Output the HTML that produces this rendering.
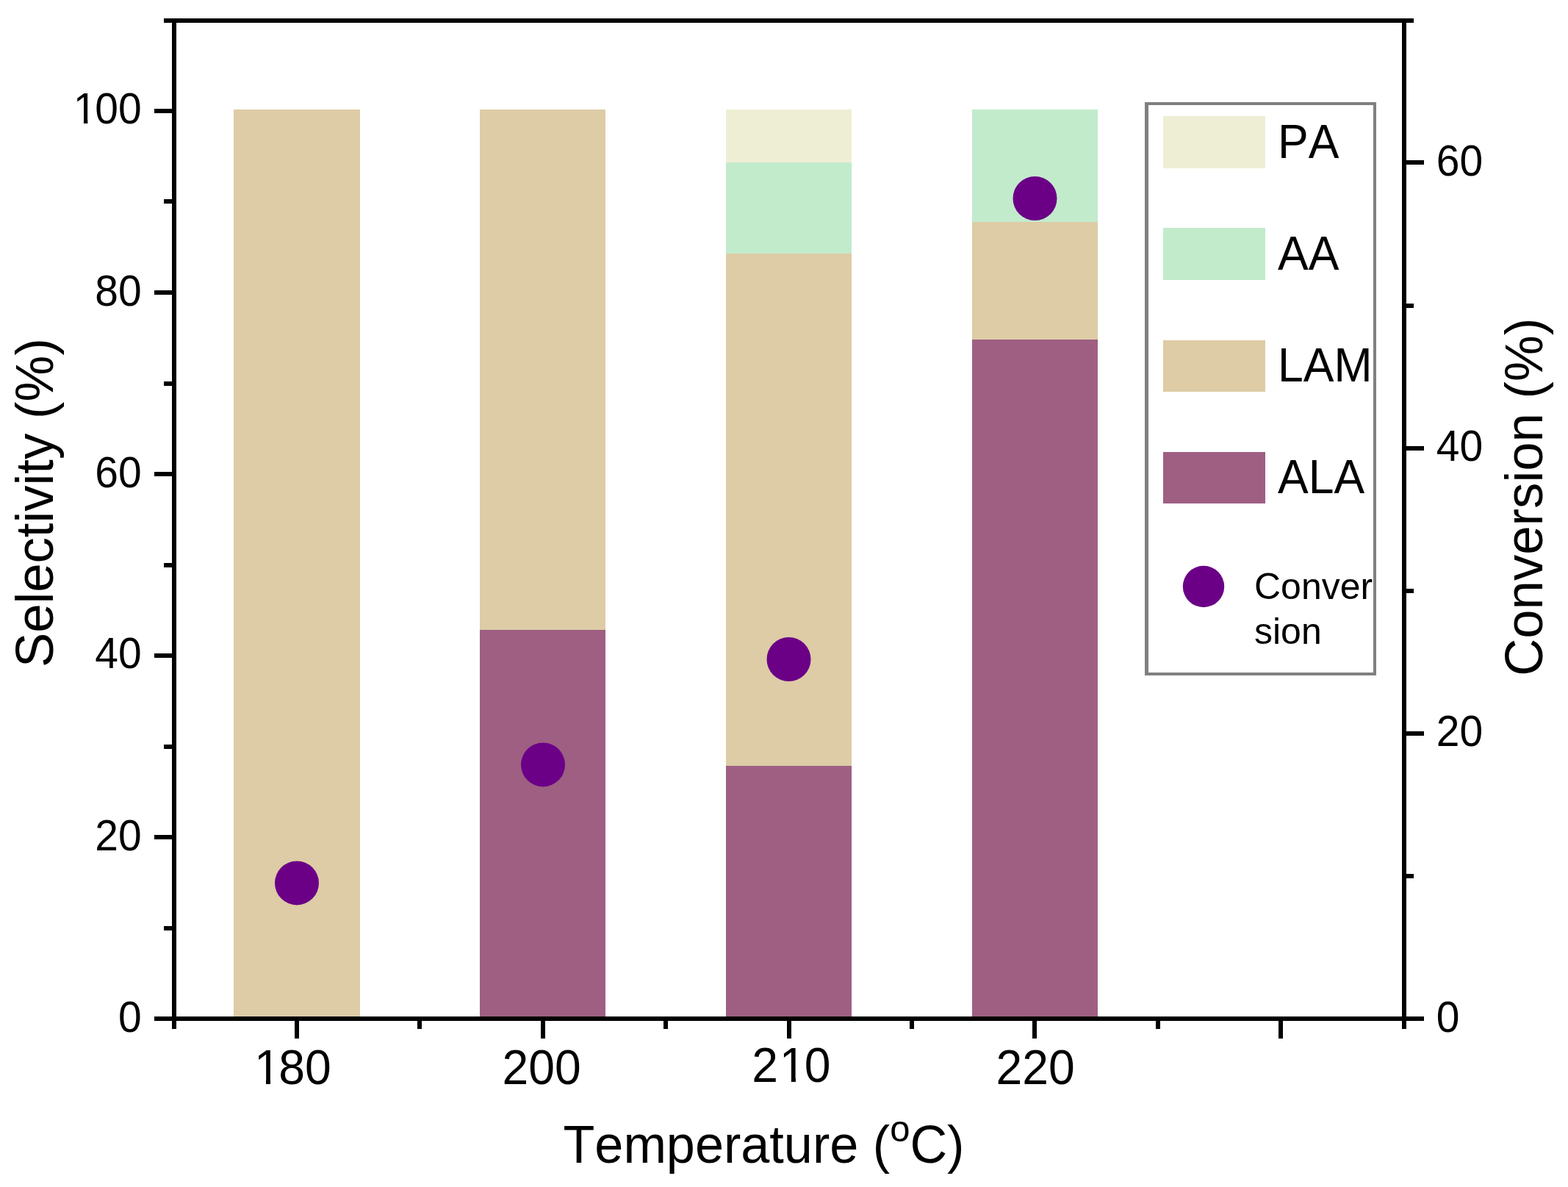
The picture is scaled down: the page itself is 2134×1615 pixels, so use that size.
<!DOCTYPE html>
<html lang="en"><head><meta charset="utf-8"><title>Selectivity and conversion vs temperature</title>
<style>
html,body{margin:0;padding:0;background:#fff;}
body{width:2134px;height:1615px;overflow:hidden;}
svg{display:block;}
text{font-family:"Liberation Sans",sans-serif;fill:#000;font-kerning:none;font-variant-ligatures:none;}
.ax{fill:#000;shape-rendering:crispEdges;}
.bar{shape-rendering:crispEdges;}
</style></head><body>
<svg width="2134" height="1615" viewBox="0 0 2134 1615" role="img" aria-label="Selectivity and conversion versus temperature">
<rect x="0" y="0" width="2134" height="1615" fill="#ffffff"/>
<g>
<rect class="bar" x="318" y="149" width="172" height="1234" fill="#DDCCA5"/>
<rect class="bar" x="653" y="857" width="171" height="526" fill="#9E5F83"/>
<rect class="bar" x="653" y="149" width="171" height="708" fill="#DDCCA5"/>
<rect class="bar" x="988" y="1042" width="171" height="341" fill="#9E5F83"/>
<rect class="bar" x="988" y="345" width="171" height="697" fill="#DDCCA5"/>
<rect class="bar" x="988" y="221" width="171" height="124" fill="#C2EBCC"/>
<rect class="bar" x="988" y="149" width="171" height="72" fill="#EEEED5"/>
<rect class="bar" x="1323" y="462" width="171" height="921" fill="#9E5F83"/>
<rect class="bar" x="1323" y="302" width="171" height="160" fill="#DDCCA5"/>
<rect class="bar" x="1323" y="149" width="171" height="153" fill="#C2EBCC"/>
</g>
<g class="ax">
<rect x="234" y="25" width="6" height="1375"/>
<rect x="1908" y="25" width="6" height="1375"/>
<rect x="223" y="25" width="1701" height="6"/>
<rect x="210" y="1383" width="1728" height="6"/>
<rect x="210" y="148" width="24" height="6"/>
<rect x="210" y="395" width="24" height="6"/>
<rect x="210" y="642" width="24" height="6"/>
<rect x="210" y="889" width="24" height="6"/>
<rect x="210" y="1136" width="24" height="6"/>
<rect x="223" y="271" width="11" height="6"/>
<rect x="223" y="519" width="11" height="6"/>
<rect x="223" y="766" width="11" height="6"/>
<rect x="223" y="1013" width="11" height="6"/>
<rect x="223" y="1260" width="11" height="6"/>
<rect x="1914" y="218" width="24" height="6"/>
<rect x="1914" y="607" width="24" height="6"/>
<rect x="1914" y="995" width="24" height="6"/>
<rect x="1914" y="413" width="10" height="6"/>
<rect x="1914" y="801" width="10" height="6"/>
<rect x="1914" y="1189" width="10" height="6"/>
<rect x="401" y="1389" width="6" height="24"/>
<rect x="736" y="1389" width="6" height="24"/>
<rect x="1071" y="1389" width="6" height="24"/>
<rect x="1405" y="1389" width="6" height="24"/>
<rect x="1740" y="1389" width="6" height="24"/>
<rect x="568" y="1389" width="6" height="11"/>
<rect x="903" y="1389" width="6" height="11"/>
<rect x="1238" y="1389" width="6" height="11"/>
<rect x="1573" y="1389" width="6" height="11"/>
</g>
<g fill="#6B0087">
<circle cx="404" cy="1201.4" r="30"/>
<circle cx="739" cy="1040.4" r="30"/>
<circle cx="1073.5" cy="897" r="30"/>
<circle cx="1408.5" cy="270" r="30"/>
</g>
<text transform="translate(160.90,1403.70) scale(1,1.035)" font-size="57">0</text>
<text transform="translate(129.20,1156.70) scale(1,1.035)" font-size="57">20</text>
<text transform="translate(129.20,908.70) scale(1,1.035)" font-size="57">40</text>
<text transform="translate(129.20,662.70) scale(1,1.035)" font-size="57">60</text>
<text transform="translate(129.20,415.70) scale(1,1.035)" font-size="57">80</text>
<g transform="translate(97.50,167.70) scale(1,1.035)"><text font-size="57" x="2.28 31.70 63.40">100</text>
<rect x="5.37" y="-5.15" width="11.08" height="6.40" fill="#fff"/>
<rect x="21.82" y="-5.15" width="10.63" height="6.40" fill="#fff"/>
</g>
<text transform="translate(1954.80,1403.65) scale(1,1.035)" font-size="57">0</text>
<text transform="translate(1954.80,1014.75) scale(1,1.035)" font-size="57">20</text>
<text transform="translate(1954.80,626.70) scale(1,1.035)" font-size="57">40</text>
<text transform="translate(1954.80,238.75) scale(1,1.035)" font-size="57">60</text>
<g transform="translate(343.56,1474.50) scale(1,1.045)"><text font-size="64.3" x="2.44 35.76 71.52">180</text>
<rect x="5.93" y="-5.81" width="12.50" height="7.22" fill="#fff"/>
<rect x="24.48" y="-5.81" width="11.99" height="7.22" fill="#fff"/>
</g>
<text transform="translate(683.46,1474.50) scale(1,1.045)" font-size="64.3">200</text>
<g transform="translate(1023.16,1471.70) scale(1,1.045)"><text font-size="64.3" x="0.00 37.70 71.52">210</text>
<rect x="41.19" y="-5.81" width="12.50" height="7.22" fill="#fff"/>
<rect x="59.75" y="-5.81" width="11.99" height="7.22" fill="#fff"/>
</g>
<text transform="translate(1355.46,1474.50) scale(1,1.045)" font-size="64.3">220</text>
<text transform="translate(766.50,1582.00) scale(1,1.02)" font-size="70.2" text-anchor="start">Temperature (<tspan font-size="49" dy="-28.92">o</tspan><tspan dy="28.92">C)</tspan></text>
<text transform="translate(72.00,908.00) rotate(-90) scale(1,1.02)" font-size="70.7" text-anchor="start">Selectivity (%)</text>
<text transform="translate(2099.30,919.80) rotate(-90) scale(1,1.02)" font-size="70.7" text-anchor="start">Conversion (%)</text>
<g class="ax" style="fill:#808080">
<rect x="1558" y="139" width="315" height="4"/>
<rect x="1558" y="915" width="315" height="4"/>
<rect x="1558" y="139" width="5" height="780"/>
<rect x="1869" y="139" width="4" height="780"/>
</g>
<rect class="bar" x="1583" y="158" width="139" height="71" fill="#EEEED5"/>
<text transform="translate(1739.00,215.00) scale(1,1.04)" font-size="62.5" text-anchor="start">PA</text>
<rect class="bar" x="1583" y="310" width="139" height="71" fill="#C2EBCC"/>
<text transform="translate(1739.00,367.00) scale(1,1.04)" font-size="62.5" text-anchor="start">AA</text>
<rect class="bar" x="1583" y="463" width="139" height="70" fill="#DDCCA5"/>
<text transform="translate(1739.00,518.70) scale(1,1.04)" font-size="62.5" text-anchor="start">LAM</text>
<rect class="bar" x="1583" y="615" width="139" height="70" fill="#9E5F83"/>
<text transform="translate(1739.00,670.80) scale(1,1.04)" font-size="62.5" text-anchor="start">ALA</text>
<circle cx="1638" cy="798" r="28.2" fill="#6B0087"/>
<text transform="translate(1707.00,815.20) scale(1,1.015)" font-size="50" text-anchor="start">Conver</text>
<text transform="translate(1707.00,875.60) scale(1,1.015)" font-size="50" text-anchor="start">sion</text>
</svg>
</body></html>
